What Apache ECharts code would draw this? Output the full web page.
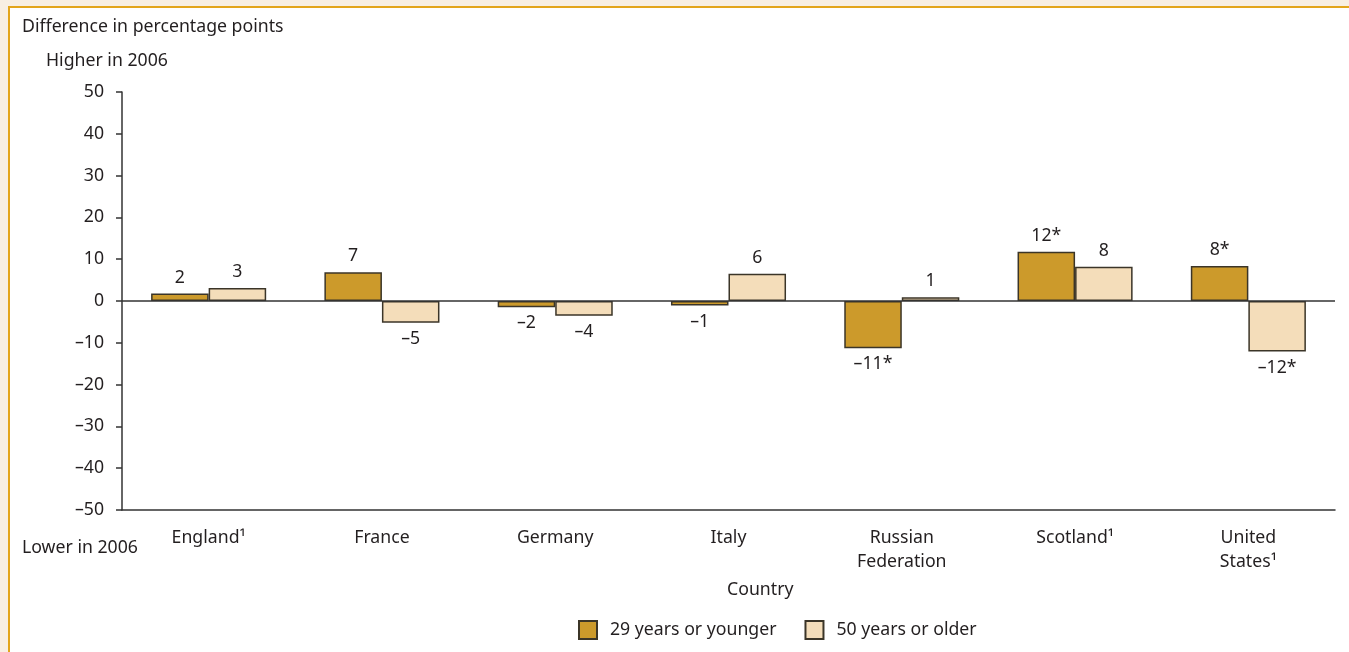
<!DOCTYPE html>
<html>
<head>
<meta charset="utf-8">
<script src="https://cdn.jsdelivr.net/npm/echarts@6/dist/echarts.min.js"></script>
<style>
html,body{margin:0;padding:0;width:1349px;height:652px;overflow:hidden;background:#f8efe3;}
#frame{position:absolute;left:8px;top:6px;width:1341px;height:646px;border-left:2px solid #e3a51c;border-top:2px solid #e3a51c;background:#fff;box-sizing:border-box;}
#chart{position:absolute;left:0;top:0;width:1349px;height:652px;}
</style>
</head>
<body>
<div id="frame"></div>
<div id="chart"></div>
<script>
var categories = ['England\u00b9', 'France', 'Germany', 'Italy', 'Russian\nFederation', 'Scotland\u00b9', 'United\nStates\u00b9'];
var seriesNames = ['29 years or younger', '50 years or older'];
var young = [1.8, 6.9, -1.5, -1.1, -11.3, 11.8, 8.4];
var old = [3.1, -5.2, -3.5, 6.5, 0.9, 8.2, -12.1];
var youngLabels = ['2', '7', '\u20132', '\u20131', '\u201311*', '12*', '8*'];
var oldLabels = ['3', '\u20135', '\u20134', '6', '1', '8', '\u201312*'];
var yTicks = {min: -50, max: 50, interval: 10};

var FONT = 'Noto Sans';
var FS = 17.7;
var TXT = '#231f20';

function mkData(vals) {
  return vals.map(function (v) {
    return {value: v, label: {position: v < 0 ? 'bottom' : 'top'}};
  });
}
function mkSeries(name, vals, labels, color) {
  return {
    name: name, type: 'bar', data: mkData(vals),
    barGap: '0%', barCategoryGap: '33.6%',
    itemStyle: {color: color, borderColor: '#3b3528', borderWidth: 1.5},
    label: {show: true, distance: 7, color: TXT, fontSize: FS, fontFamily: FONT,
      formatter: function (p) { return labels[p.dataIndex]; }},
    emphasis: {disabled: true}
  };
}

var chart = echarts.init(document.getElementById('chart'), null, {renderer: 'canvas'});
var s1 = mkSeries(seriesNames[0], young, youngLabels, '#cc9a2b');
s1.markLine = {silent: true, symbol: 'none', label: {show: false},
  lineStyle: {color: '#333', width: 1.5, type: 'solid'}, data: [{yAxis: 0}]};
var s2 = mkSeries(seriesNames[1], old, oldLabels, '#f4ddba');
var font = FS + 'px "' + FONT + '"';

chart.setOption({
  animation: false,
  textStyle: {fontFamily: FONT},
  grid: {left: 122, right: 14, top: 92, bottom: 142, containLabel: false},
  xAxis: {
    type: 'category', data: categories,
    axisLine: {onZero: false, lineStyle: {color: '#333', width: 1.5}},
    axisTick: {show: false},
    axisLabel: {color: TXT, fontSize: FS, fontFamily: FONT, margin: 16, lineHeight: 24, interval: 0}
  },
  yAxis: {
    type: 'value', min: yTicks.min, max: yTicks.max, interval: yTicks.interval,
    axisLine: {show: true, lineStyle: {color: '#333', width: 1.5}},
    axisTick: {show: true, length: 6, lineStyle: {color: '#333', width: 1.5}},
    splitLine: {show: false},
    axisLabel: {color: TXT, fontSize: FS, fontFamily: FONT, margin: 18,
      formatter: function (v) { return String(v).replace('-', '\u2013'); }}
  },
  legend: {
    left: 573, top: 615, itemWidth: 18, itemHeight: 18, itemGap: 28, icon: 'rect',
    textStyle: {color: TXT, fontSize: FS, fontFamily: FONT, padding: [0, 0, 0, 8]},
    data: seriesNames
  },
  graphic: [
    {type: 'text', left: 22, top: 18, style: {text: 'Difference in percentage points', fill: TXT, font: font}},
    {type: 'text', left: 46, top: 52, style: {text: 'Higher in 2006', fill: TXT, font: font}},
    {type: 'text', left: 22, top: 539, style: {text: 'Lower in 2006', fill: TXT, font: font}},
    {type: 'text', left: 727, top: 581, style: {text: 'Country', fill: TXT, font: font}}
  ],
  series: [s1, s2]
});
</script>
</body>
</html>
